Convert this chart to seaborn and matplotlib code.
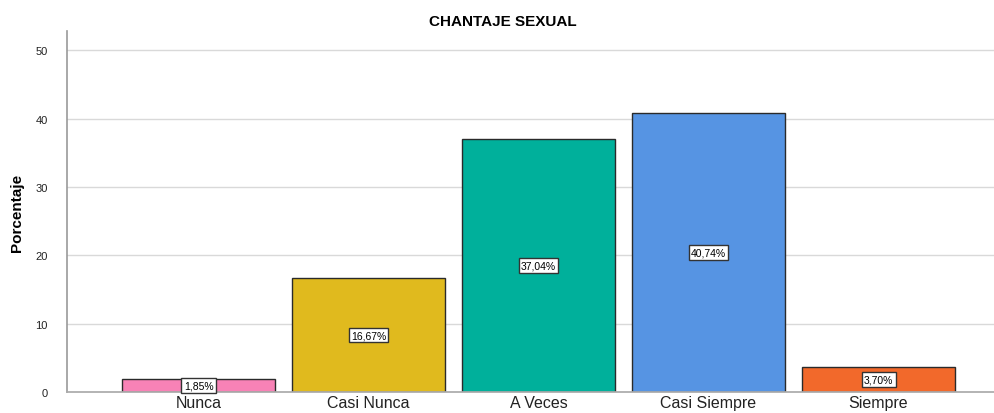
import matplotlib
matplotlib.use("Agg")
import matplotlib.pyplot as plt
import seaborn as sns
import pandas as pd

categories = ["Nunca", "Casi Nunca", "A Veces", "Casi Siempre", "Siempre"]
values = [1.85, 16.67, 37.04, 40.74, 3.70]
labels = ["1,85%", "16,67%", "37,04%", "40,74%", "3,70%"]
colors = ["#F882B6", "#E0BA1E", "#00B09B", "#5694E3", "#F2692B"]
yticks = [0, 10, 20, 30, 40, 50]

sns.set_theme(style="white")
plt.rcParams['font.family'] = ['Liberation Sans', 'DejaVu Sans']

df = pd.DataFrame({"cat": categories, "val": values})

fig = plt.figure(figsize=(9.95, 4.14), dpi=100)
ax = fig.add_axes([67/995, 21/414, (995-67)/995, (393-32)/414])

for y in yticks[1:]:
    ax.axhline(y, color="#d9d9d9", lw=1.0, zorder=0)

sns.barplot(data=df, x="cat", y="val", hue="cat", palette=colors, order=categories,
            width=0.9, saturation=1, edgecolor="#2a2a2a", linewidth=1.0, legend=False,
            ax=ax, zorder=2)

for i, (v, lab) in enumerate(zip(values, labels)):
    ax.text(i, v / 2, lab, ha="center", va="center", fontsize=7.5, color="black",
            bbox=dict(boxstyle="square,pad=0.22", fc="white", ec="#333333", lw=1.0), zorder=3)

ax.set_ylim(0, 52.8)
ax.set_xlim(-0.774, 4.685)
ax.set_yticks(yticks)
ax.set_yticklabels([str(t) for t in yticks], fontsize=8, color="#222222")
ax.tick_params(axis="y", length=0, pad=14)
ax.tick_params(axis="x", length=0, pad=2, labelsize=11.5, labelcolor="#222222")
ax.set_xlabel("")
ax.set_ylabel("Porcentaje", fontsize=11, fontweight="bold", labelpad=8, color="black")
for s in ["top", "right"]:
    ax.spines[s].set_visible(False)
ax.spines["left"].set_color("#999999")
ax.spines["bottom"].set_color("#aaaaaa")
ax.spines["left"].set_linewidth(1.2)

fig.text(503/995, 1 - 22/414, "CHANTAJE SEXUAL", ha="center", va="center",
         fontsize=11, fontweight="bold", color="black")

fig.savefig("out.png", dpi=100)
